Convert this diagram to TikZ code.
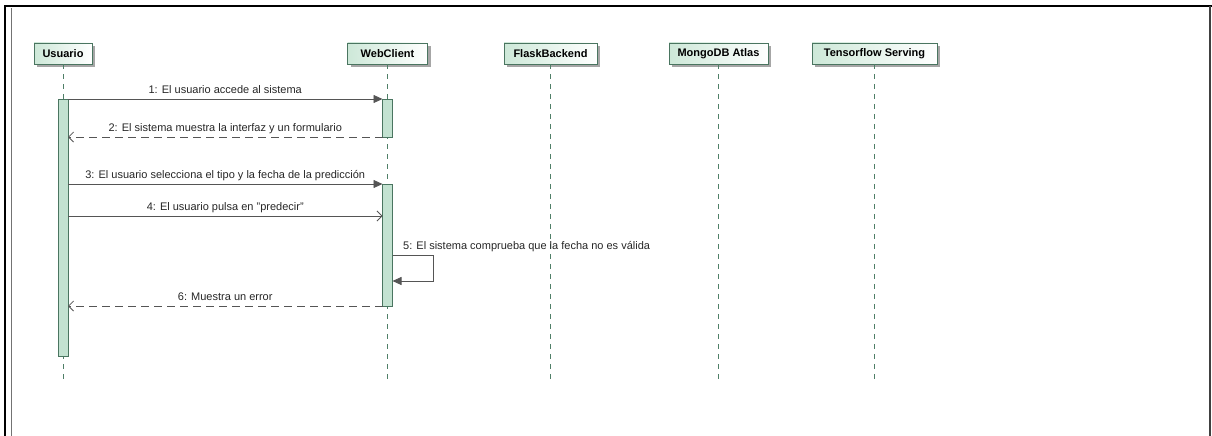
\documentclass[tikz,border=0pt]{standalone}
\usepackage{fontspec}
\setmainfont{Liberation Sans}
\usetikzlibrary{arrows.meta,shadows}
\definecolor{lifec}{HTML}{4F7F67}
\definecolor{barfill}{HTML}{C3E2D1}
\definecolor{barline}{HTML}{4A7560}
\definecolor{msgc}{HTML}{555555}
\definecolor{boxleft}{HTML}{CDE8D8}
\begin{document}
\begin{tikzpicture}[x=1pt,y=-1pt,
  actor/.style={draw=barline, line width=0.8pt, left color=boxleft, right color=white,
    minimum height=21pt, inner sep=0pt, font=\fontsize{11}{13}\selectfont\bfseries,
    drop shadow={shadow xshift=3pt,shadow yshift=-3pt,fill=black!35,opacity=1}},
  life/.style={draw=lifec, line width=0.7pt, dash pattern=on 5pt off 5pt},
  bar/.style={draw=barline, fill=barfill, line width=0.8pt, minimum width=10pt, inner sep=0pt},
  sync/.style={draw=msgc, line width=0.8pt, -{Triangle[length=9pt,width=8pt]}},
  async/.style={draw=msgc, line width=0.8pt, -{Straight Barb[length=5pt,width=10pt]}},
  reply/.style={async, dash pattern=on 8pt off 5pt},
  lbl/.style={font=\fontsize{11}{13}\selectfont, text=black!85, inner sep=0pt, anchor=base}]
\useasboundingbox (0,0) rectangle (1212,436);
% frame
\draw[line width=2pt] (5,437) -- (5,6) -- (1212,6);
\draw[black!55, line width=1pt] (11,8) -- (11,437);
\draw[black!75, line width=1.2pt] (1210,6) -- (1210,437);
% participants
\node[actor, minimum width=58pt] (usu) at (63,53.5) {Usuario};
\node[actor, minimum width=80pt] (web) at (387.5,53.5) {WebClient};
\node[actor, minimum width=93pt] (fla) at (550.5,53.5) {FlaskBackend};
\node[actor, minimum width=99pt] (mon) at (718.5,53.5) {MongoDB Atlas};
\node[actor, minimum width=125pt] (ten) at (874.5,53.5) {Tensorflow Serving};
% lifelines
\coordinate (usuE) at (63,383);
\coordinate (webE) at (387.5,383);
\coordinate (flaE) at (550.5,383);
\coordinate (monE) at (718.5,383);
\coordinate (tenE) at (874.5,383);
\draw[life] (usu.south) -- (usuE);
\draw[life] (web.south) -- (webE);
\draw[life] (fla.south) -- (flaE);
\draw[life] (mon.south) -- (monE);
\draw[life] (ten.south) -- (tenE);
% activation bars
\node[bar, minimum height=257pt] (ub) at (63,227.5) {};
\node[bar, minimum height=38pt] (wb1) at (387.5,118) {};
\node[bar, minimum height=122pt] (wb2) at (387.5,245) {};
% messages
\coordinate (m1a) at (68,99);    \coordinate (m1b) at (382.5,99);
\coordinate (m2a) at (382.5,137); \coordinate (m2b) at (68,137);
\coordinate (m3a) at (68,184);   \coordinate (m3b) at (382.5,184);
\coordinate (m4a) at (68,216);   \coordinate (m4b) at (382.5,216);
\coordinate (m5a) at (392.5,255.5); \coordinate (m5b) at (392.5,281);
\coordinate (m6a) at (382.5,306); \coordinate (m6b) at (68,306);
\draw[sync] (m1a) -- node[lbl, yshift=6pt] (l1) {1: El usuario accede al sistema} (m1b);
\draw[reply] (m2a) -- node[lbl, yshift=6pt] (l2) {2: El sistema muestra la interfaz y un formulario} (m2b);
\draw[sync] (m3a) -- node[lbl, yshift=6pt] (l3) {3: El usuario selecciona el tipo y la fecha de la predicción} (m3b);
\draw[async] (m4a) -- node[lbl, yshift=6pt] (l4) {4: El usuario pulsa en "predecir"} (m4b);
\draw[sync] (m5a) -- ++(40.5,0) |- (m5b);
\node[lbl, anchor=base west] (l5) at (403,249) {5: El sistema comprueba que la fecha no es válida};
\draw[reply] (m6a) -- node[lbl, yshift=6pt] (l6) {6: Muestra un error} (m6b);
\end{tikzpicture}
\end{document}
